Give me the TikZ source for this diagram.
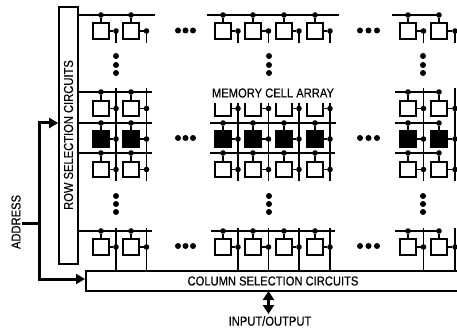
\documentclass[tikz,border=0pt]{standalone}
\usepackage{fontspec}
\newfontfamily\lab[FakeStretch=0.86,FakeBold=0.25]{Liberation Sans}
\usetikzlibrary{arrows.meta}
\tikzset{
  x=1pt,y=-1pt,
  cellbox/.style={draw,line width=1.8pt,minimum width=15.5pt,minimum height=15.5pt,inner sep=0pt,fill=white},
  blackcell/.style={cellbox,fill=black},
  wire/.style={line width=1.6pt},
  heavy/.style={line width=2.2pt},
  bus/.style={line width=3pt},
  jdot/.style={circle,fill=black,inner sep=0pt,minimum size=5.6pt},
  gap/.style={circle,fill=black,inner sep=0pt,minimum size=6pt},
  panel/.style={draw,line width=1.7pt,fill=white,inner sep=0pt},
  txt/.style={font=\lab\fontsize{13}{14}\selectfont,inner sep=0pt},
  tip/.style={-{Triangle[length=9pt,width=10pt]}},
}
% \cellat{row}{cx}{wordline y}{cell y}{bit x}{style}
\newcommand{\cellat}[6]{%
  \node[#6] (c#1x#2) at (#2,#4) {};
  \node[jdot] (w#1x#2) at (#2,#3) {};
  \node[jdot] (b#1x#2) at (#5,#4) {};
  \draw[wire] (c#1x#2.north) -- (w#1x#2);
  \draw[wire] (c#1x#2.east) -- (b#1x#2);
}
\begin{document}
\begin{tikzpicture}
\useasboundingbox (0,0) rectangle (457,331);
% panels
\node[panel,minimum width=19pt,minimum height=257pt] (rowsel) at (68.5,135.5) {};
\node[panel,minimum width=373pt,minimum height=20pt,anchor=north west] (colsel) at (85,270) {};
\node[txt,rotate=90] at (68.5,135) {ROW SELECTION CIRCUITS};
\node[txt] at (273,281) {COLUMN SELECTION CIRCUITS};
\node[txt] (mem) at (273,93) {MEMORY CELL ARRAY};
\node[txt] (io) at (270,321) {INPUT/OUTPUT};
\node[txt,rotate=90] (addr) at (16,222) {ADDRESS};
% coordinates of the ends of the word lines
\foreach \wy/\n in {15/a,92/b,123/c,153/d,231/e}{
  \coordinate (L\n) at (78,\wy);
}
% word lines
\draw[wire] (La) -- (155,15);
\draw[heavy] (207,15) -- (339,15);
\draw[wire] (392,15) -- (441,15);
\draw[wire] (Lb) -- (152,92);
\draw[wire] (395,92) -- (441,92);
\draw[heavy] (Lc) -- (152,123);
\draw[heavy] (210,123) -- (336,123);
\draw[heavy] (395,123) -- (441,123);
\draw[wire] (Ld) -- (152,153);
\draw[wire] (210,153) -- (335,153);
\draw[wire] (395,153) -- (441,153);
\draw[wire] (Le) -- (152,231);
\draw[wire] (211,231) -- (335,231);
\draw[wire] (395,231) -- (441,231);
% bit lines
\foreach \bx in {116,146.5,238,268.5,299,330,423.5,455}{
  \draw[wire] (\bx,31) -- (\bx,43);
  \draw[wire] (\bx,228) -- (\bx,270);
}
\foreach \bx in {116,146.5,423.5,455}{\draw[wire] (\bx,88) -- (\bx,181);}
\foreach \bx in {238,268.5,299,330}{\draw[wire] (\bx,103) -- (\bx,181);}
% cells
\foreach \cx/\bx in {101/116,131/146.5,223/238,253/268.5,284/299,315/330,408/423.5,439/455}{
  \cellat{a}{\cx}{15}{31}{\bx}{cellbox}
  \cellat{c}{\cx}{123}{139}{\bx}{blackcell}
  \cellat{d}{\cx}{153}{169.5}{\bx}{cellbox}
  \cellat{e}{\cx}{231}{247}{\bx}{cellbox}
}
\foreach \cx/\bx in {101/116,131/146.5,408/423.5,439/455}{
  \cellat{b}{\cx}{92}{108.5}{\bx}{cellbox}
}
% open cells under the label
\foreach \cx/\bx in {223/238,253/268.5,284/299,315/330}{
  \coordinate (ul\cx) at (\cx-8,103);
  \coordinate (ur\cx) at (\cx+8,103);
  \node[jdot] (ub\cx) at (\bx,108.5) {};
  \draw[wire] (ul\cx) -- ++(0,13) -| (ur\cx);
  \draw[wire] (\cx+8,108.5) -- (ub\cx);
}
% ellipses
\foreach \y in {30.5,138,246}{
  \foreach \x in {178,185.5,193,360,368.5,377}{\node[gap] at (\x,\y) {};}
}
\foreach \x in {116,269,423}{
  \foreach \y in {56,65,73,196,204,212}{\node[gap] at (\x,\y) {};}
}
% address bus
\coordinate (busT) at (39,123);
\coordinate (busB) at (39,279);
\coordinate (busM) at (39,223);
\coordinate (stub) at (22,223);
\draw[bus] (stub) -- (busM);
\draw[bus,line cap=rect] (busT) -- (busB);
\draw[bus,tip] (busT) -- (rowsel.west |- busT);
\draw[bus,tip] (busB) -- (colsel.west |- busB);
% input / output
\coordinate (ioa) at (268.5,291);
\coordinate (iob) at (268.5,314);
\draw[bus,{Triangle[length=9pt,width=11pt]}-{Triangle[length=9pt,width=11pt]}] (ioa) -- (iob);
\end{tikzpicture}
\end{document}
